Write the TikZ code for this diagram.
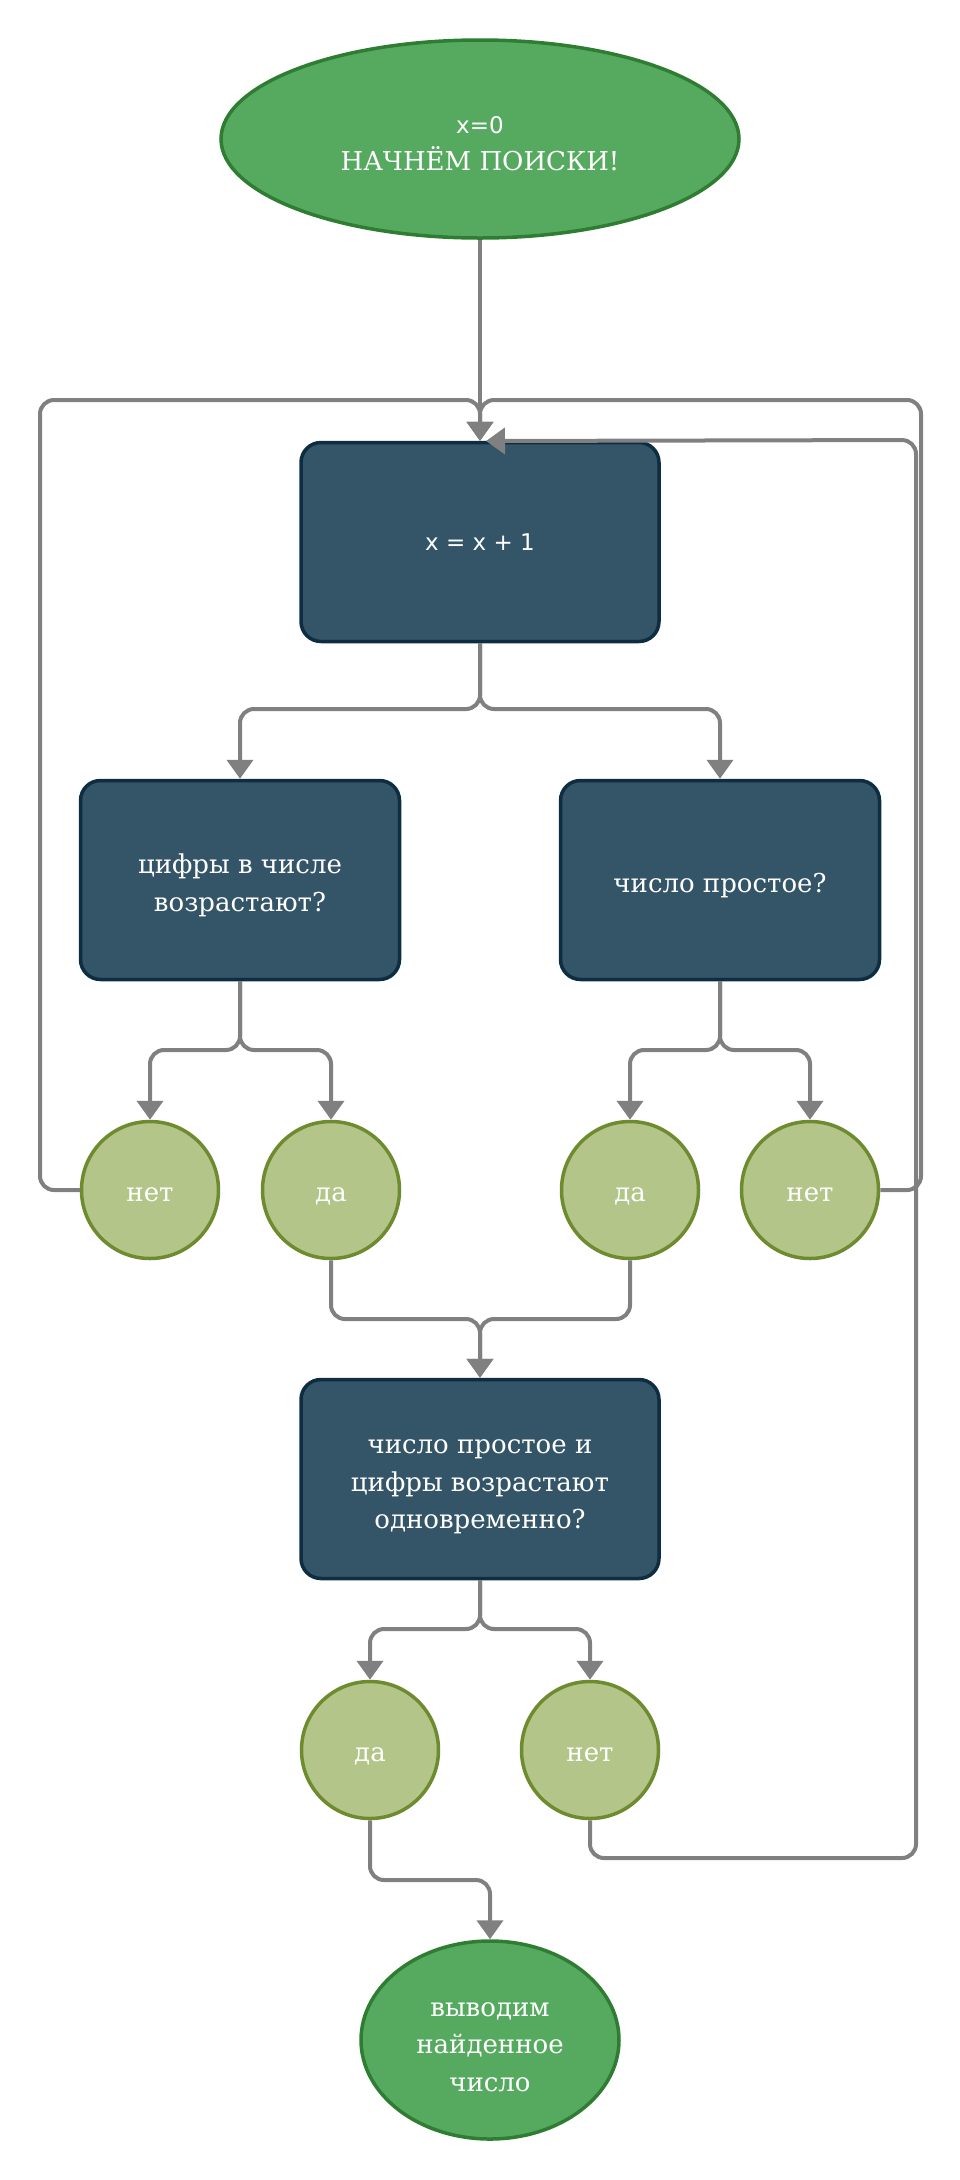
\documentclass[tikz,border=0pt]{standalone}
\usepackage{fontspec}
\setmainfont{DejaVu Serif}
\setsansfont{DejaVu Sans}
\usetikzlibrary{shapes.geometric,arrows.meta}
\definecolor{startfill}{HTML}{55AA5F}
\definecolor{startdraw}{HTML}{2E7D32}
\definecolor{boxfill}{HTML}{335567}
\definecolor{boxdraw}{HTML}{0E2D40}
\definecolor{circfill}{HTML}{B3C588}
\definecolor{circdraw}{HTML}{6F8B2F}
\definecolor{linegray}{HTML}{808080}
\newcommand\mystrut[1]{\rule{0pt}{#1}}
\begin{document}
\begin{tikzpicture}[x=1pt,y=-1pt,
  txt/.style={text=white,align=center,font=\fontsize{26}{37.5}\selectfont},
  term/.style={txt,ellipse,fill=startfill,draw=startdraw,line width=3.5pt,inner sep=0pt},
  procbox/.style={txt,rectangle,rounded corners=20pt,fill=boxfill,draw=boxdraw,line width=3.5pt,minimum width=358pt,minimum height=199pt,inner sep=0pt},
  answer/.style={txt,circle,fill=circfill,draw=circdraw,line width=3.5pt,minimum size=137pt,inner sep=0pt,text height=22pt,text depth=0pt},
  conn/.style={draw=linegray,line width=4pt,rounded corners=14pt,-{Triangle[width=26pt,length=19pt]}}]
\useasboundingbox (0,0) rectangle (960,2180);
\node[term,minimum width=518pt,minimum height=198pt] (start) at (480,139)
  {{\sffamily\fontsize{23}{39}\selectfont\mystrut{26pt}x=0}\\НАЧНЁМ ПОИСКИ!};
\node[procbox] (inc) at (480,542) {\sffamily\fontsize{23}{37.5}\selectfont x = x + 1};
\node[procbox,minimum width=319pt] (dig) at (240,880) {\mystrut{30pt}цифры в числе\\возрастают?};
\node[procbox,minimum width=319pt,text height=25pt,text depth=0pt] (prime) at (720,880) {число простое?};
\node[answer] (n1) at (150,1190) {нет};
\node[answer] (y1) at (331,1190) {да};
\node[answer] (y2) at (630,1190) {да};
\node[answer] (n2) at (810,1190) {нет};
\node[procbox] (both) at (480,1479) {\mystrut{30pt}число простое и\\цифры возрастают\\одновременно?};
\node[answer] (y3) at (370,1750) {да};
\node[answer] (n3) at (590,1750) {нет};
\node[term,minimum width=258pt,minimum height=198pt] (fin) at (490,2040) {\mystrut{28pt}выводим\\найденное\\число};
\coordinate (intip) at (486,441);
% connectors
\draw[conn] (start.south) -- (inc.north);
\draw[conn] (inc.south) -- (480,709) -| (dig.north);
\draw[conn] (inc.south) -- (480,709) -| (prime.north);
\draw[conn] (dig.south) -- (240,1050) -| (n1.north);
\draw[conn] (dig.south) -- (240,1050) -| (y1.north);
\draw[conn] (prime.south) -- (720,1050) -| (y2.north);
\draw[conn] (prime.south) -- (720,1050) -| (n2.north);
\draw[conn] (y1.south) -- (331,1319) -| (both.north);
\draw[conn] (y2.south) -- (630,1319) -| (both.north);
\draw[conn] (both.south) -- (480,1629) -| (y3.north);
\draw[conn] (both.south) -- (480,1629) -| (n3.north);
\draw[conn] (y3.south) -- (370,1880) -| (fin.north);
\draw[conn] (n1.west) -- (40,1190) -- (40,400) -- (480,400) -- (inc.north);
\draw[conn] (n2.east) -- (921,1190) -- (921,400) -- (480,400) -- (inc.north);
\draw[conn] (n3.south) -- (590,1858) -- (916,1858) -- (916,440) -- (intip);
\end{tikzpicture}
\end{document}
